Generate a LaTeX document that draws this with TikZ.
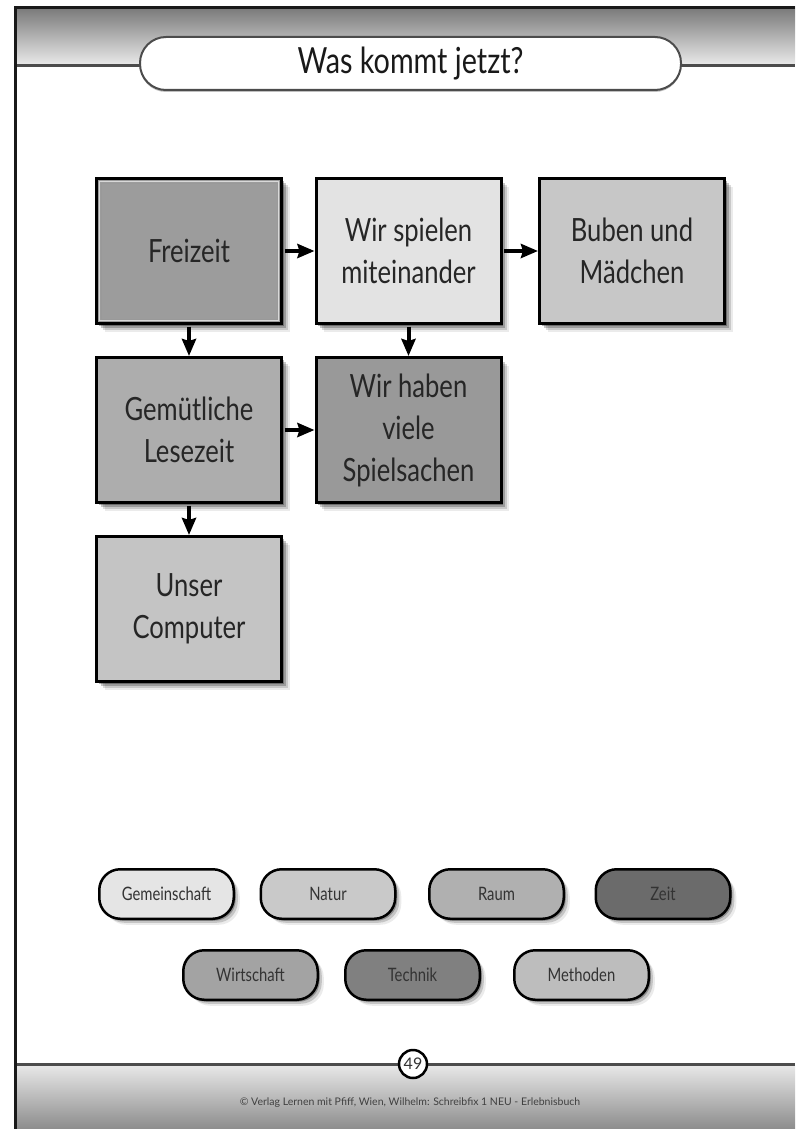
\documentclass[tikz,border=0pt]{standalone}
\usepackage{fontspec}
\setmainfont{Lato}[FakeStretch=0.8]
\newfontfamily\footfont{Lato}
\usetikzlibrary{arrows.meta,shadows}
\definecolor{hdtop}{gray}{0.47}
\definecolor{hdbot}{gray}{0.91}
\definecolor{ftop}{gray}{0.91}
\definecolor{fbot}{gray}{0.55}
\definecolor{hdline}{gray}{0.30}
\definecolor{boxtext}{gray}{0.15}
\definecolor{pilltext}{gray}{0.20}
\definecolor{cFrei}{gray}{0.61}
\definecolor{cWsp}{gray}{0.89}
\definecolor{cBub}{gray}{0.78}
\definecolor{cGem}{gray}{0.68}
\definecolor{cWhb}{gray}{0.60}
\definecolor{cUns}{gray}{0.77}
\definecolor{pGem}{gray}{0.90}
\definecolor{pNat}{gray}{0.79}
\definecolor{pRau}{gray}{0.69}
\definecolor{pZei}{gray}{0.42}
\definecolor{pWir}{gray}{0.64}
\definecolor{pTec}{gray}{0.50}
\definecolor{pMet}{gray}{0.74}
\tikzset{
  softshadow/.style={
    drop shadow={shadow xshift=8pt,shadow yshift=-8pt,opacity=0.08,fill=black},
    drop shadow={shadow xshift=6pt,shadow yshift=-6pt,opacity=0.14,fill=black},
    drop shadow={shadow xshift=4pt,shadow yshift=-4pt,opacity=0.22,fill=black},
    drop shadow={shadow xshift=2pt,shadow yshift=-2pt,opacity=0.30,fill=black}},
  smallshadow/.style={
    drop shadow={shadow xshift=6pt,shadow yshift=-6pt,opacity=0.08,fill=black},
    drop shadow={shadow xshift=4pt,shadow yshift=-4pt,opacity=0.16,fill=black},
    drop shadow={shadow xshift=2pt,shadow yshift=-2pt,opacity=0.28,fill=black}},
  topicbox/.style={draw=black, line width=3pt, minimum width=185pt, minimum height=145pt,
    align=center, inner sep=0pt, font=\fontsize{32}{42}\selectfont, text=boxtext, softshadow},
  pill/.style={draw=black, line width=2.5pt, rounded corners=21pt, minimum width=134.5pt,
    minimum height=49.5pt, inner sep=0pt, font=\fontsize{18.5}{20}\selectfont, text=pilltext, smallshadow},
  titlepill/.style={draw=hdline, fill=white, line width=2pt, rounded corners=26pt,
    minimum width=541pt, minimum height=53pt, inner sep=0pt,
    font=\fontsize{36}{40}\selectfont, text=black!90,
    drop shadow={shadow xshift=0pt,shadow yshift=-2pt,opacity=0.25,fill=black}},
  conn/.style={line width=4pt, -{Stealth[length=17pt,width=14pt,inset=2pt]}, shorten <=1.5pt},
  pagecircle/.style={circle, draw=black, fill=white, line width=2.5pt, minimum size=28pt,
    inner sep=0pt, font=\footfont\fontsize{16}{17}\selectfont, text=black!80},
  foottext/.style={inner sep=0pt, font=\footfont\fontsize{10.5}{12}\selectfont, text=black!75}
}
\begin{document}
\begin{tikzpicture}[x=1pt,y=-1pt]
\useasboundingbox (0,0) rectangle (795,1129);
\fill[white] (0,0) rectangle (795,1129);
% header band
\shade[top color=hdtop,bottom color=hdbot] (15,7) rectangle (795,64);
\draw[line width=3pt,color=hdline] (15,65.5) -- (795,65.5);
% footer band
\shade[top color=ftop,bottom color=fbot] (15,1065) rectangle (795,1129);
\draw[line width=3pt,color=hdline] (15,1064) -- (795,1064);
% page frame
\draw[line width=3pt,color=black!90] (15.5,1129) -- (15.5,7.5) -- (795,7.5);
% title
\node[titlepill] (title) at (410.5,63.5) {Was kommt jetzt?};
% topic boxes
\node[topicbox, fill=cFrei] (fz) at (189,251) {Freizeit};
\draw[color=gray!30, line width=1.5pt] ([shift={(4.5pt,-4.5pt)}]fz.north west) rectangle ([shift={(-4.5pt,4.5pt)}]fz.south east);
\draw[color=gray!80, line width=0.6pt] ([shift={(6pt,-6pt)}]fz.north west) rectangle ([shift={(-6pt,6pt)}]fz.south east);
\node[topicbox, fill=cWsp] (ws) at (408.5,251) {Wir spielen\\miteinander};
\node[topicbox, fill=cBub] (bm) at (632,251) {Buben und\\Mädchen};
\node[topicbox, fill=cGem] (gl) at (189,430) {Gemütliche\\Lesezeit};
\node[topicbox, fill=cWhb] (wh) at (408.5,430) {Wir haben\\viele\\Spielsachen};
\node[topicbox, fill=cUns] (uc) at (189,609) {Unser\\Computer};
% connectors
\draw[conn] (fz.east) -- (ws.west);
\draw[conn] (ws.east) -- (bm.west);
\draw[conn] (gl.east) -- (wh.west);
\draw[conn] (fz.south) -- (gl.north);
\draw[conn] (ws.south) -- (wh.north);
\draw[conn] (gl.south) -- (uc.north);
% category pills
\node[pill, fill=pGem] (p1) at (166.5,894) {Gemeinschaft};
\node[pill, fill=pNat] (p2) at (328,894) {Natur};
\node[pill, fill=pRau] (p3) at (496.5,894) {Raum};
\node[pill, fill=pZei] (p4) at (663,894) {Zeit};
\node[pill, fill=pWir] (p5) at (250.5,975) {Wirtschaft};
\node[pill, fill=pTec] (p6) at (412.5,975) {Technik};
\node[pill, fill=pMet] (p7) at (581.5,975) {Methoden};
% footer
\node[pagecircle] (pg) at (413,1064) {49};
\node[foottext] (ft) at (410,1103) {© Verlag Lernen mit Pfiff, Wien, Wilhelm: Schreibfix 1 NEU - Erlebnisbuch};
\end{tikzpicture}
\end{document}
